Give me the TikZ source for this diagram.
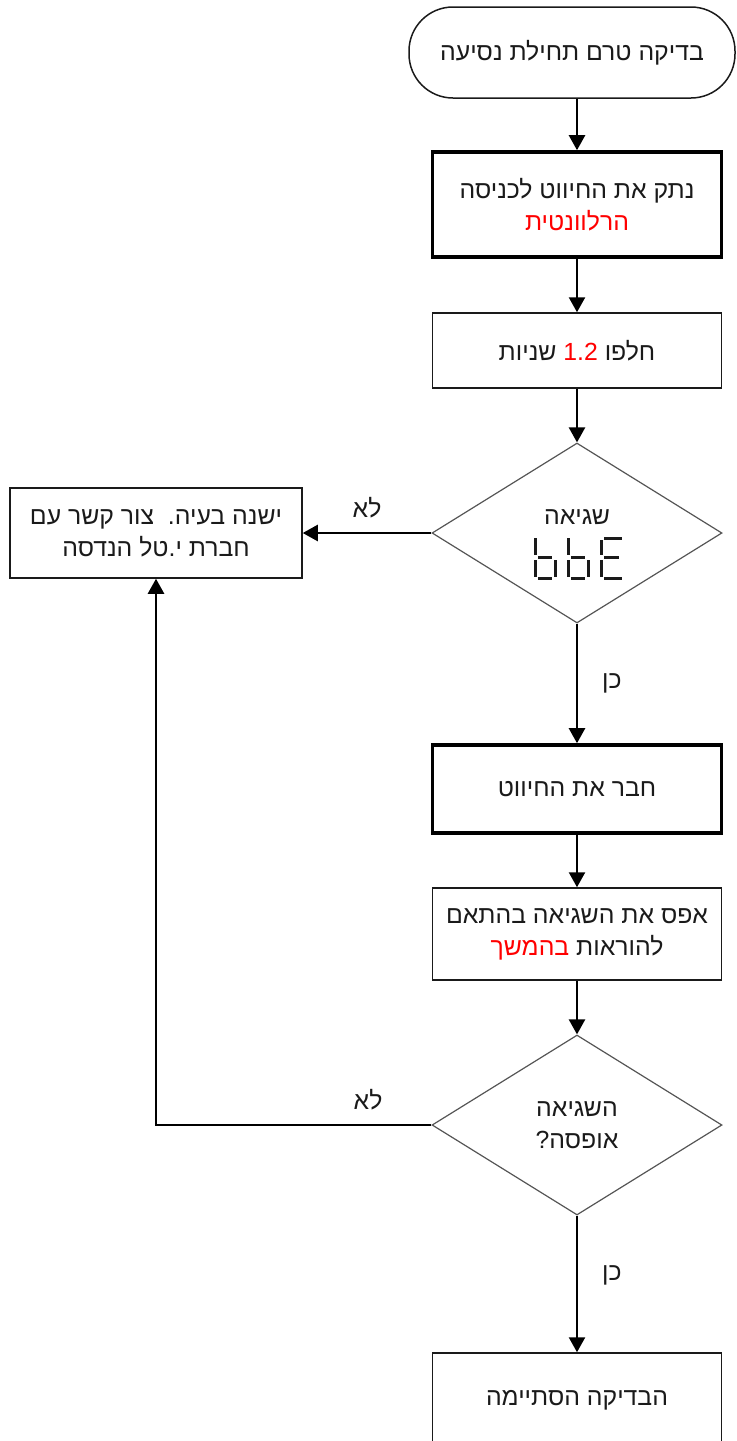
\documentclass[tikz,border=0pt]{standalone}
\usepackage{fontspec}
\setmainfont{Liberation Sans}
\newfontfamily\heb[Script=Hebrew]{Liberation Sans}
\TeXXeTstate=1
\usetikzlibrary{shapes.geometric,arrows.meta}
\definecolor{ink}{HTML}{1A1A1A}
\definecolor{frame}{HTML}{555555}
\definecolor{alert}{HTML}{FF0000}
\newcommand{\rl}[1]{\beginR #1\endR}

\begin{document}
\begin{tikzpicture}[x=0.5pt,y=-0.5pt,
  every node/.style={font=\heb\fontsize{12.4}{16}\selectfont, text=ink},
  box/.style={draw=ink, line width=0.75pt, align=center, inner sep=0pt, minimum width=144.5pt},
  boldbox/.style={box, draw=black, line width=1.8pt},
  startbox/.style={box, rounded corners=22pt},
  decision/.style={diamond, draw=frame, line width=0.6pt, inner sep=0pt, align=center,
    minimum width=145pt, minimum height=90pt},
  conn/.style={draw=black, line width=1.2pt, -{Triangle[length=7.5pt,width=8pt]}},
  seg/.style={draw=ink, line width=1.5pt},
  lbl/.style={inner sep=0pt}
]
\useasboundingbox (0,0) rectangle (736,1441);
\clip (0,0) rectangle (736,1441);

% process steps (mixed-colour lines are set piece by piece, right to left)
\node[startbox, minimum width=163pt, minimum height=45.5pt] (start) at (572,52.5)
  {\rl{בדיקה טרם תחילת נסיעה}};
\node[boldbox, minimum height=52.5pt] (cut) at (577,204.5)
  {\rl{נתק את החיווט לכניסה}\\ \textcolor{alert}{\rl{הרלוונטית}}};
\node[box, minimum height=37.5pt] (wait) at (577,350.5)
  {\rl{שניות} \textcolor{alert}{1.2} \rl{חלפו}};
\node[decision] (err) at (577,533) {};
\node[lbl] (errtxt) at (577,517) {\rl{שגיאה}};
\node[box, minimum width=146pt, minimum height=45pt] (fault) at (156,533)
  {\rl{ישנה בעיה.\ \ צור קשר עם}\\ \rl{חברת י.טל הנדסה}};
\node[boldbox, minimum height=44pt] (plug) at (577,789)
  {\rl{חבר את החיווט}};
\node[box, minimum height=46pt] (reset) at (577,934)
  {\rl{אפס את השגיאה בהתאם}\\ \textcolor{alert}{\rl{בהמשך}} \rl{להוראות}};
\node[decision] (done) at (577,1125)
  {\rl{השגיאה}\\ \rl{אופסה?}};
\node[box, minimum width=144.5pt, minimum height=47pt] (end) at (577,1400)
  {\rl{הבדיקה הסתיימה}};

% seven-segment "bbE" reading inside the first decision
\foreach \dx in {0,33}{
  \draw[seg] (535+\dx,538) -- (535+\dx,555);
  \draw[seg] (535+\dx,560) -- (535+\dx,577);
  \draw[seg] (538+\dx,557.5) -- (552+\dx,557.5);
  \draw[seg] (538+\dx,578) -- (552+\dx,578);
  \draw[seg] (555+\dx,560) -- (555+\dx,577);
}
\draw[seg] (601,540) -- (601,555);
\draw[seg] (601,560) -- (601,577);
\draw[seg] (604,538) -- (622,538);
\draw[seg] (604,557.5) -- (619,557.5);
\draw[seg] (604,578) -- (622,578);

% connectors
\draw[conn] (cut.north |- start.south) -- (cut.north);
\draw[conn] (cut) -- (wait);
\draw[conn] (wait) -- (err);
\draw[conn] (err.west) -- node[lbl, midway, above=7pt] {\rl{לא}} (fault.east);
\draw[conn] (err.south) -- node[lbl, midway, right=12pt] {\rl{כן}} (plug.north);
\draw[conn] (plug) -- (reset);
\draw[conn] (reset) -- (done);
\draw[conn] (done.west) -| node[lbl, pos=0.115, above=7pt] {\rl{לא}} (fault.south);
\draw[conn] (done.south) -- node[lbl, pos=0.44, right=12pt] {\rl{כן}} (end.north);
\end{tikzpicture}
\end{document}
